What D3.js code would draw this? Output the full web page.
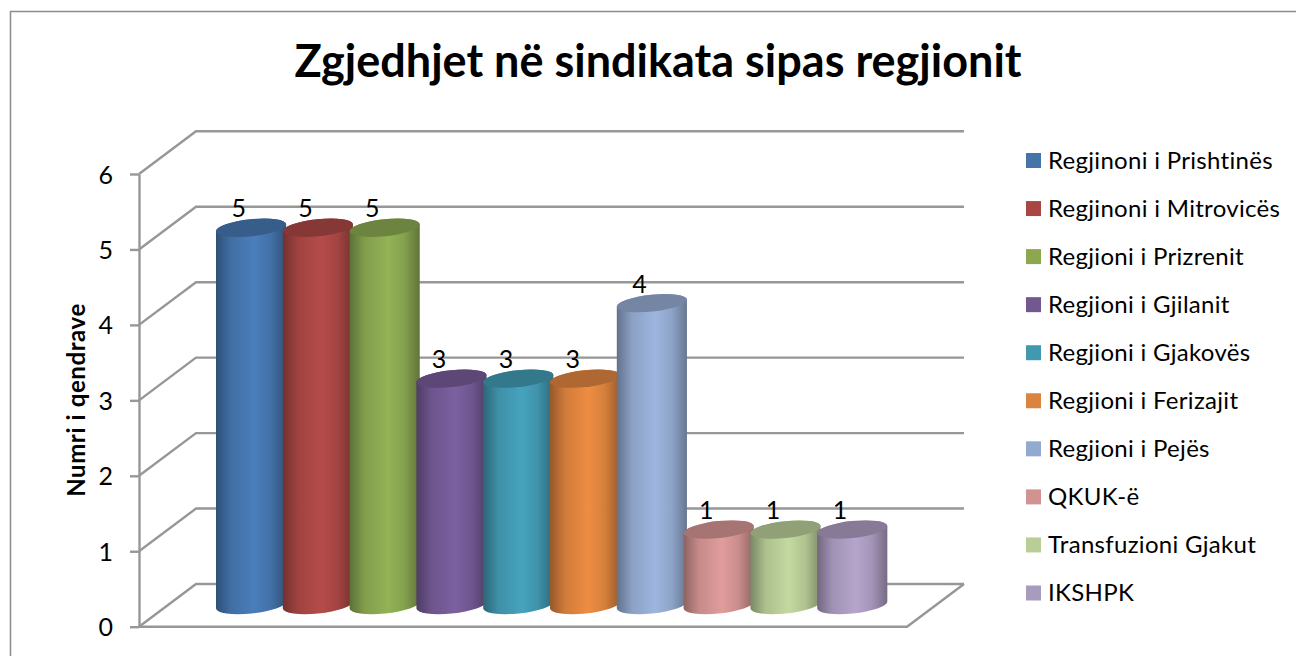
<!DOCTYPE html>
<html>
<head>
<meta charset="utf-8">
<script src="https://cdn.jsdelivr.net/npm/d3@7.9.0/dist/d3.min.js"></script>
<style>
  html, body { margin: 0; padding: 0; background: #fff; overflow: hidden; }
  text { font-family: Lato, "Open Sans", sans-serif; fill: #000; }
</style>
</head>
<body>
<svg id="chart" width="1296" height="656"></svg>
<script>
const chartTitle = "Zgjedhjet në sindikata sipas regjionit";
const yAxisTitle = "Numri i qendrave";
const categories = [
  "Regjinoni i Prishtinës", "Regjinoni i Mitrovicës", "Regjioni i Prizrenit",
  "Regjioni i Gjilanit", "Regjioni i Gjakovës", "Regjioni i Ferizajit",
  "Regjioni i Pejës", "QKUK-ë", "Transfuzioni Gjakut", "IKSHPK"
];
const values = [5, 5, 5, 3, 3, 3, 4, 1, 1, 1];
const yTicks = [0, 1, 2, 3, 4, 5, 6];

const legendColors = ["#4674A8", "#A94643", "#8BA84C", "#71588F", "#4198AF",
                      "#DB843D", "#93A9CF", "#D19392", "#B9CD96", "#A99BBD"];
const barColors = ["#4A7EBB", "#B54C4A", "#93B356", "#7C60A0", "#46A3BD",
                   "#ED8D42", "#9EB6DF", "#E09D9C", "#C4D9A0", "#B5A5CC"];
const gridColor = "#979797";

const svg = d3.select("#chart");

// 3D box of the plot: front plane on the axis, back wall shifted up and right
const depthX = 57, depthY = 42.7;
const plotLeft = 139, plotRight = 907;

const y = d3.scaleLinear().domain([0, 6]).range([626.7, 174]);
const x = d3.scaleBand().domain(categories).range([216, 884]).padding(0);
const barW = x.step() * 1.05;
const floorShift = 21.7; // bars stand half way into the floor

// chart frame, only the top and left edges are in the crop
svg.append("path")
  .attr("d", "M10.5,656V11.5H1296")
  .attr("fill", "none")
  .attr("stroke", "#8c8c8c")
  .attr("stroke-width", 1.5);

// back wall grid and side wall diagonals
const grid = svg.append("g").attr("fill", "none").attr("stroke", gridColor).attr("stroke-width", 2.4);
yTicks.forEach(t => {
  grid.append("path")
    .attr("d", `M${plotLeft},${y(t)}L${plotLeft + depthX},${y(t) - depthY}H${plotRight + depthX}`);
});
grid.append("path")
  .attr("d", `M${plotLeft},${y(0)}H${plotRight}L${plotRight + depthX},${y(0) - depthY}`);

const yAxis = svg.append("g")
  .attr("transform", `translate(${plotLeft},0)`)
  .call(d3.axisLeft(y).tickValues(yTicks).tickFormat(d3.format("d")).tickSize(9).tickSizeOuter(0).tickPadding(17));
yAxis.selectAll("path, line").attr("stroke", gridColor).attr("stroke-width", 2.4);
yAxis.selectAll("text").style("font-size", "25px").attr("dy", "0.36em").attr("fill", "#000");

// cylinder shading
const defs = svg.append("defs");
categories.forEach((c, i) => {
  const base = d3.color(barColors[i]);
  const grad = defs.append("linearGradient").attr("id", `bar${i}`);
  grad.append("stop").attr("offset", "0%").attr("stop-color", base.darker(1.3));
  grad.append("stop").attr("offset", "22%").attr("stop-color", base.darker(0.35));
  grad.append("stop").attr("offset", "55%").attr("stop-color", base);
  grad.append("stop").attr("offset", "78%").attr("stop-color", base.darker(0.3));
  grad.append("stop").attr("offset", "100%").attr("stop-color", base.darker(1.2));
});

const rx = barW / 2, ry = 8.4, tilt = 3.6, rot = -6;

const bars = svg.append("g").selectAll("g")
  .data(categories)
  .join("g");

bars.append("path")
  .attr("fill", (d, i) => `url(#bar${i})`)
  .attr("d", (d, i) => {
    const l = x(d), r = l + barW;
    const top = y(values[i]) - floorShift, bot = y(0) - floorShift;
    return `M${l},${top + tilt}L${l},${bot + tilt}` +
      `A${rx},${ry} ${rot} 0 0 ${r},${bot - tilt}` +
      `L${r},${top - tilt}` +
      `A${rx},${ry} ${rot} 0 0 ${l},${top + tilt}Z`;
  });

bars.append("path")
  .attr("fill", (d, i) => d3.color(barColors[i]).darker(0.85))
  .attr("d", (d, i) => {
    const l = x(d), r = l + barW;
    const top = y(values[i]) - floorShift;
    return `M${l},${top + tilt}A${rx},${ry} ${rot} 0 1 ${r},${top - tilt}` +
      `A${rx},${ry} ${rot} 0 1 ${l},${top + tilt}Z`;
  });

bars.append("text")
  .attr("x", d => x(d) + 22.7)
  .attr("y", (d, i) => y(values[i]) - floorShift - 10.5)
  .attr("text-anchor", "middle")
  .style("font-size", "25px")
  .text((d, i) => values[i]);

// titles
svg.append("text")
  .attr("x", 658)
  .attr("y", 77)
  .attr("text-anchor", "middle")
  .style("font-size", "45px")
  .style("font-weight", 700)
  .text(chartTitle);

svg.append("text")
  .attr("transform", "translate(85,400) rotate(-90)")
  .attr("text-anchor", "middle")
  .style("font-size", "24px")
  .style("letter-spacing", "0.6px")
  .style("font-weight", 700)
  .text(yAxisTitle);

// legend
const legendY = d3.scalePoint().domain(categories).range([160.5, 593]);
const legend = svg.append("g").selectAll("g")
  .data(categories)
  .join("g")
  .attr("transform", d => `translate(1026,${legendY(d)})`);
legend.append("rect")
  .attr("y", -7.5)
  .attr("width", 15)
  .attr("height", 15)
  .attr("fill", (d, i) => legendColors[i]);
legend.append("text")
  .attr("x", 22)
  .attr("y", 8)
  .style("font-size", "24px")
  .style("letter-spacing", "0.3px")
  .text(d => d);
</script>
</body>
</html>
